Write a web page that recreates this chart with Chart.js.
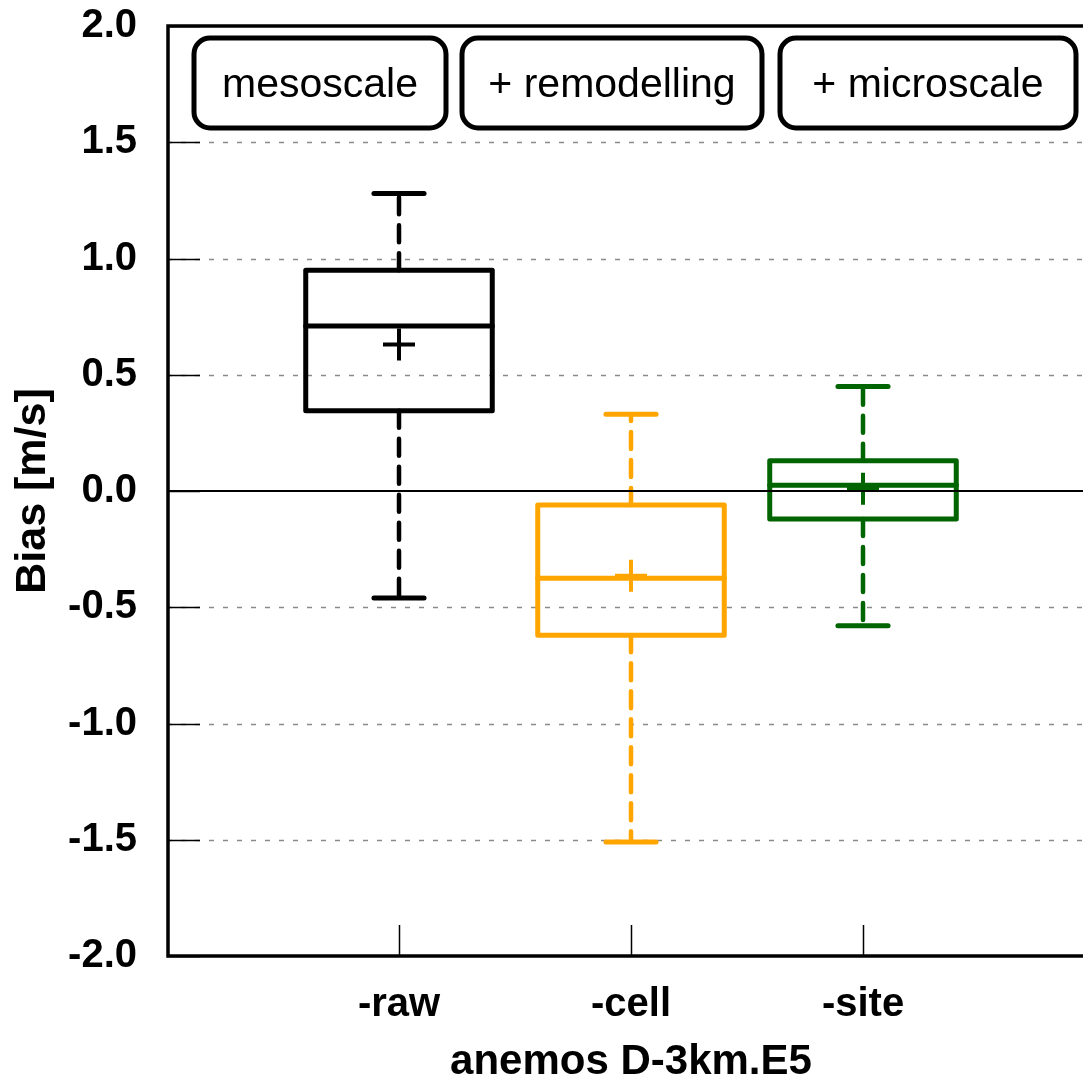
<!DOCTYPE html>
<html><head><meta charset="utf-8">
<script src="https://cdn.jsdelivr.net/npm/chart.js@4/dist/chart.umd.min.js"></script>
<style>html,body{margin:0;padding:0;overflow:hidden;background:#fff}</style>
</head><body>
<canvas id="c" width="1115" height="1083" style="display:block"></canvas>
<script>
// ---- data ----
const categories = ['-raw', '-cell', '-site'];
const whiskerHigh = [1.28, 0.33, 0.45];
const q3 = [0.95, -0.06, 0.13];
const median = [0.71, -0.375, 0.025];
const mean = [0.63, -0.365, 0.01];
const q1 = [0.345, -0.62, -0.12];
const whiskerLow = [-0.46, -1.51, -0.58];
const colors = ['#000000', '#FFA500', '#006400'];
const stageLabels = ['mesoscale', '+ remodelling', '+ microscale'];
const yTicks = [-2, -1.5, -1, -0.5, 0, 0.5, 1, 1.5, 2];
const xTitle = 'anemos D-3km.E5';
const yTitle = 'Bias [m/s]';

const FONT = "'Liberation Sans', Arial, Helvetica, sans-serif";

function rr(ctx, x0, y0, x1, y1, r) {
  ctx.beginPath();
  ctx.moveTo(x0 + r, y0);
  ctx.lineTo(x1 - r, y0);
  ctx.arcTo(x1, y0, x1, y0 + r, r);
  ctx.lineTo(x1, y1 - r);
  ctx.arcTo(x1, y1, x1 - r, y1, r);
  ctx.lineTo(x0 + r, y1);
  ctx.arcTo(x0, y1, x0, y1 - r, r);
  ctx.lineTo(x0, y0 + r);
  ctx.arcTo(x0, y0, x0 + r, y0, r);
  ctx.closePath();
}

const boxPlugin = {
  id: 'boxPlugin',
  beforeDatasetsDraw(chart) {
    const ctx = chart.ctx;
    const xs = chart.scales.x, ys = chart.scales.y;
    const a = chart.chartArea;
    const unit = xs.getPixelForValue(1) - xs.getPixelForValue(0);
    ctx.save();
    // grid lines
    ctx.strokeStyle = '#8a8a8a';
    ctx.lineWidth = 1.5;
    ctx.setLineDash([5, 9]);
    yTicks.forEach(v => {
      if (v === 0 || Math.abs(v) === 2) return;
      const y = Math.round(ys.getPixelForValue(v)) + 0.5;
      ctx.beginPath(); ctx.moveTo(a.left, y); ctx.lineTo(a.right, y); ctx.stroke();
    });
    ctx.setLineDash([]);
    // inner ticks
    ctx.strokeStyle = '#000';
    ctx.lineWidth = 1.5;
    yTicks.forEach(v => {
      const y = Math.round(ys.getPixelForValue(v)) + 0.5;
      ctx.beginPath(); ctx.moveTo(a.left, y); ctx.lineTo(a.left + 33, y); ctx.stroke();
    });
    categories.forEach((c, i) => {
      const x = Math.round(xs.getPixelForValue(i + 1)) + 0.5;
      ctx.beginPath(); ctx.moveTo(x, a.bottom); ctx.lineTo(x, a.bottom - 31); ctx.stroke();
    });
    // frame
    ctx.lineWidth = 3.5;
    ctx.strokeRect(a.left + 1, a.top, a.right - a.left - 1, a.bottom - a.top);

    // boxes
    const half = 0.402 * unit, cap = 0.108 * unit;
    categories.forEach((c, i) => {
      const x = xs.getPixelForValue(i + 1);
      const yq3 = ys.getPixelForValue(q3[i]), yq1 = ys.getPixelForValue(q1[i]);
      const yhi = ys.getPixelForValue(whiskerHigh[i]), ylo = ys.getPixelForValue(whiskerLow[i]);
      const ymed = ys.getPixelForValue(median[i]);
      ctx.strokeStyle = colors[i];
      ctx.lineCap = 'round';
      ctx.lineJoin = 'round';
      ctx.lineWidth = 4.5;
      ctx.setLineDash([17, 11]);
      ctx.beginPath(); ctx.moveTo(x, yq3); ctx.lineTo(x, yhi); ctx.stroke();
      ctx.beginPath(); ctx.moveTo(x, yq1); ctx.lineTo(x, ylo); ctx.stroke();
      ctx.setLineDash([]);
      ctx.lineWidth = 5;
      ctx.beginPath(); ctx.moveTo(x - cap, yhi); ctx.lineTo(x + cap, yhi); ctx.stroke();
      ctx.beginPath(); ctx.moveTo(x - cap, ylo); ctx.lineTo(x + cap, ylo); ctx.stroke();
      ctx.strokeRect(x - half, yq3, 2 * half, yq1 - yq3);
      ctx.beginPath(); ctx.moveTo(x - half, ymed); ctx.lineTo(x + half, ymed); ctx.stroke();
    });

    // stage label boxes
    const boxes = [[194, 446], [462, 762], [780, 1076]];
    ctx.lineWidth = 5;
    ctx.strokeStyle = '#000';
    ctx.font = '41px ' + FONT;
    ctx.textAlign = 'center';
    ctx.textBaseline = 'middle';
    boxes.forEach((b, i) => {
      ctx.fillStyle = '#fff';
      rr(ctx, b[0], 38, b[1], 128, 16);
      ctx.fill();
      ctx.stroke();
      ctx.fillStyle = '#000';
      ctx.fillText(stageLabels[i], (b[0] + b[1]) / 2, 86);
    });
    ctx.restore();
  },
  afterDatasetsDraw(chart) {
    const ctx = chart.ctx;
    const ys = chart.scales.y;
    const a = chart.chartArea;
    ctx.save();
    ctx.strokeStyle = '#000';
    ctx.lineWidth = 2;
    const y = Math.round(ys.getPixelForValue(0));
    ctx.beginPath(); ctx.moveTo(a.left, y); ctx.lineTo(a.right, y); ctx.stroke();
    ctx.restore();
  }
};

new Chart(document.getElementById('c'), {
  type: 'scatter',
  data: {
    datasets: [{
      label: 'mean',
      data: mean.map((m, i) => ({ x: i + 1, y: m })),
      pointStyle: 'cross',
      pointRadius: 16,
      pointHoverRadius: 16,
      borderWidth: 4,
      pointBorderColor: colors,
      borderColor: colors,
      showLine: false
    }]
  },
  options: {
    responsive: false,
    animation: false,
    events: [],
    layout: { padding: 0 },
    plugins: { legend: { display: false }, tooltip: { enabled: false } },
    scales: {
      x: {
        type: 'linear', min: 0, max: 4,
        grid: { display: false, drawTicks: false }, border: { display: false },
        afterBuildTicks: s => { s.ticks = categories.map((c, i) => ({ value: i + 1 })); },
        afterFit: s => { s.height = 127; s.paddingLeft = 0; s.paddingRight = 0; },
        ticks: {
          callback: v => categories[v - 1],
          autoSkip: false, maxRotation: 0,
          color: '#000', padding: 25,
          font: { family: FONT, size: 40, weight: 'bold' }
        },
        title: {
          display: true, text: xTitle, color: '#000',
          padding: { top: 0, bottom: 0 },
          font: { family: FONT, size: 42, weight: 'bold', lineHeight: 1 }
        }
      },
      y: {
        type: 'linear', min: -2, max: 2,
        grid: { display: false, drawTicks: false }, border: { display: false },
        afterBuildTicks: s => { s.ticks = yTicks.map(v => ({ value: v })); },
        afterFit: s => { s.width = 167; s.paddingTop = 26; s.paddingBottom = 0; },
        ticks: {
          callback: v => Number(v).toFixed(1),
          color: '#000', padding: 30,
          font: { family: FONT, size: 40, weight: 'bold' }
        },
        title: {
          display: true, text: yTitle, color: '#000',
          padding: { top: 12, bottom: 0 },
          font: { family: FONT, size: 43, weight: 'bold', lineHeight: 1 }
        }
      }
    }
  },
  plugins: [boxPlugin]
});
</script>
</body></html>
